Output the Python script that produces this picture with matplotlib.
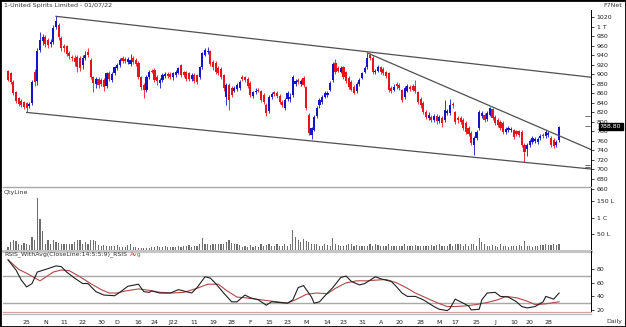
import matplotlib
matplotlib.use('Agg')
import matplotlib.pyplot as plt
from matplotlib.patches import Rectangle
import numpy as np

# daily OHLC (oldest first)
opens = [907, 903, 884, 863, 850, 845, 842, 840, 834, 840, 905, 886, 952, 970, 978, 972, 964, 968, 1000, 1004,
         976, 960, 960, 945, 936, 935, 937, 935, 920, 935, 948, 930, 894, 880, 890, 888, 889, 876, 903, 888,
         902, 914, 920, 935, 932, 926, 922, 934, 930, 924, 894, 878, 867, 894, 908, 909, 895, 882, 888, 896,
         901, 900, 894, 898, 903, 919, 905, 905, 902, 890, 898, 898, 894, 915, 941, 946, 949, 926, 924, 914,
         912, 898, 853, 878, 871, 866, 870, 871, 894, 894, 891, 882, 855, 862, 868, 864, 856, 836, 822, 852,
         862, 860, 854, 842, 830, 848, 848, 857, 880, 888, 880, 893, 874, 815, 772, 783, 812, 835, 842, 853,
         856, 868, 888, 924, 914, 906, 915, 905, 893, 884, 874, 864, 880, 893, 905, 915, 940, 934, 904, 908,
         915, 912, 905, 903, 872, 868, 880, 878, 867, 852, 866, 874, 876, 875, 863, 848, 840, 821, 808, 810,
         804, 812, 803, 808, 804, 818, 819, 838, 821, 808, 808, 804, 798, 788, 777, 752, 766, 787, 812, 815,
         806, 815, 827, 810, 804, 800, 798, 779, 783, 782, 783, 780, 780, 779, 752, 744, 752, 758, 760, 758,
         766, 772, 771, 772, 766, 762, 752, 762]
highs = [910, 906, 888, 866, 853, 848, 845, 842, 842, 888, 912, 955, 990, 985, 982, 976, 974, 1004, 1022, 1008,
         980, 964, 962, 950, 940, 940, 940, 938, 940, 950, 956, 934, 896, 894, 895, 892, 893, 906, 908, 904,
         918, 924, 935, 938, 936, 936, 942, 938, 934, 928, 897, 882, 898, 910, 912, 913, 898, 892, 902, 906,
         905, 904, 906, 910, 916, 922, 908, 908, 906, 902, 902, 900, 918, 948, 956, 958, 952, 930, 928, 918,
         915, 900, 882, 882, 875, 876, 882, 888, 898, 896, 895, 885, 866, 872, 872, 868, 860, 840, 856, 862,
         866, 864, 858, 846, 850, 866, 860, 898, 890, 892, 890, 896, 876, 818, 790, 815, 833, 850, 856, 864,
         866, 886, 926, 932, 918, 918, 918, 908, 896, 888, 878, 884, 892, 906, 918, 945, 944, 938, 912, 920,
         918, 915, 908, 906, 876, 880, 884, 882, 870, 875, 880, 878, 880, 888, 866, 852, 844, 825, 820, 814,
         816, 816, 814, 812, 846, 828, 848, 842, 824, 812, 812, 808, 802, 792, 780, 770, 782, 826, 822, 818,
         822, 832, 830, 814, 808, 804, 802, 790, 792, 790, 786, 784, 784, 782, 755, 756, 764, 770, 769, 768,
         775, 776, 783, 780, 770, 766, 762, 792]
lows = [886, 880, 856, 840, 834, 832, 828, 820, 830, 836, 876, 878, 948, 962, 958, 956, 958, 964, 995, 972,
        950, 948, 938, 932, 928, 918, 905, 908, 912, 930, 936, 890, 863, 872, 872, 875, 866, 872, 885, 884,
        898, 910, 916, 924, 924, 922, 918, 922, 918, 890, 868, 850, 862, 890, 902, 884, 878, 872, 884, 892,
        892, 890, 888, 894, 900, 895, 894, 886, 886, 886, 882, 880, 890, 912, 938, 942, 918, 910, 900, 898,
        890, 866, 836, 825, 852, 862, 866, 868, 886, 884, 872, 852, 850, 858, 862, 842, 838, 812, 818, 848,
        854, 850, 838, 832, 826, 844, 842, 852, 876, 880, 876, 874, 826, 772, 765, 780, 808, 830, 838, 850,
        852, 864, 884, 900, 904, 902, 890, 882, 870, 864, 858, 860, 876, 890, 902, 912, 930, 900, 900, 904,
        900, 898, 892, 862, 860, 864, 870, 868, 842, 848, 862, 866, 864, 860, 838, 830, 817, 806, 804, 800,
        800, 796, 798, 790, 800, 814, 815, 830, 796, 798, 795, 782, 775, 770, 752, 730, 762, 782, 808, 800,
        802, 812, 804, 794, 790, 783, 775, 775, 778, 778, 765, 770, 768, 748, 716, 728, 748, 754, 756, 754,
        762, 766, 767, 768, 748, 746, 748, 758]
closes = [889, 884, 860, 843, 838, 836, 831, 829, 838, 884, 884, 950, 972, 978, 964, 962, 968, 998, 1012, 978,
          956, 955, 942, 938, 934, 925, 915, 914, 935, 941, 940, 895, 882, 890, 878, 880, 874, 903, 890, 900,
          915, 920, 931, 928, 928, 932, 930, 927, 922, 894, 873, 867, 894, 905, 906, 888, 885, 888, 898, 901,
          896, 894, 902, 906, 913, 898, 898, 890, 890, 898, 886, 884, 915, 945, 951, 950, 921, 915, 905, 902,
          894, 871, 878, 846, 857, 872, 878, 884, 890, 888, 876, 856, 862, 866, 866, 846, 842, 819, 853, 858,
          858, 855, 842, 836, 846, 861, 852, 894, 886, 884, 886, 878, 829, 777, 787, 811, 830, 846, 852, 860,
          860, 882, 921, 905, 908, 914, 894, 885, 874, 867, 861, 880, 888, 903, 914, 934, 934, 905, 908, 916,
          904, 902, 897, 867, 866, 874, 875, 872, 846, 871, 876, 870, 868, 864, 842, 835, 821, 810, 815, 804,
          812, 802, 810, 798, 825, 822, 836, 835, 800, 804, 800, 787, 779, 775, 756, 766, 778, 821, 818, 804,
          818, 829, 808, 798, 793, 787, 779, 785, 788, 786, 769, 775, 772, 752, 737, 752, 760, 767, 765, 764,
          771, 770, 779, 776, 752, 750, 758, 788.8]

# quantity in lakhs
volume = [12, 26, 31, 29, 21, 16, 23, 19, 16, 41, 33, 160, 95, 61, 21, 31, 19, 33, 26, 23,
          19, 19, 21, 21, 21, 26, 33, 33, 19, 26, 19, 31, 33, 29, 16, 13, 16, 13, 13, 15,
          13, 16, 12, 12, 10, 16, 19, 12, 10, 7, 7, 7, 7, 7, 12, 10, 15, 12, 12, 13,
          12, 12, 12, 10, 13, 12, 13, 15, 16, 12, 13, 15, 21, 39, 21, 19, 16, 21, 19, 19,
          21, 21, 26, 31, 24, 21, 19, 16, 12, 13, 10, 16, 12, 15, 12, 21, 13, 16, 19, 13,
          15, 19, 15, 15, 19, 15, 19, 63, 41, 33, 26, 36, 29, 26, 21, 21, 19, 13, 13, 19,
          16, 15, 39, 21, 16, 13, 15, 16, 19, 21, 15, 16, 13, 15, 13, 15, 21, 15, 19, 16,
          15, 13, 15, 19, 15, 13, 15, 13, 15, 19, 15, 13, 15, 16, 15, 13, 15, 13, 15, 16,
          15, 17, 21, 15, 15, 15, 19, 15, 19, 21, 19, 15, 19, 15, 19, 21, 15, 39, 25, 19,
          15, 13, 16, 15, 12, 19, 13, 15, 12, 15, 15, 13, 16, 15, 29, 15, 13, 12, 13, 15,
          16, 17, 21, 18, 16, 19, 18, 21]

# RSI and its average, sampled by bar number
rsi_bar = [0, 3, 5, 7, 9, 11, 15, 18, 20, 22, 25, 28, 30, 33, 36, 40, 42, 45, 49, 51, 53, 54, 57, 61, 64,
           67, 69, 71, 74, 76, 78, 81, 84, 86, 89, 91, 94, 97, 99, 102, 105, 107, 109, 111, 114, 115, 117,
           120, 122, 125, 127, 129, 132, 134, 136, 138, 140, 142, 144, 146, 148, 150, 153, 156, 158, 160,
           162, 165, 166, 168, 171, 173, 174, 177, 178, 180, 183, 185, 188, 191, 193, 195, 198, 201, 202,
           205, 207]
rsi_val = [94, 79, 64, 54, 59, 76, 81, 85, 84, 76, 67, 59, 59, 47, 42, 41, 46, 55, 58, 47, 46, 48, 45, 45, 50,
           47, 45, 53, 69, 67, 59, 45, 32, 32, 42, 38, 35, 27, 32, 31, 30, 35, 53, 56, 39, 30, 32,
           45, 53, 68, 70, 62, 57, 59, 64, 69, 66, 64, 62, 54, 45, 40, 40, 35, 30, 25,
           21, 19, 22, 36, 30, 26, 20, 21, 35, 45, 46, 40, 39, 32, 25, 23, 25, 32, 40,
           36, 45]
avg_bar = [0, 4, 8, 12, 17, 20, 23, 27, 31, 35, 38, 41, 44, 49, 53, 57, 62, 66, 71, 75, 79, 82, 86, 89, 93,
           97, 101, 105, 108, 112, 116, 120, 123, 127, 131, 135, 138, 142, 146, 150, 153, 157, 161, 165,
           168, 172, 176, 180, 184, 187, 191, 195, 198, 202, 207]
avg_val = [94, 80, 72, 63, 76, 79, 78, 69, 59, 50, 45, 45, 48, 51, 49, 46, 45, 46, 52, 58, 58, 49, 39, 38, 36,
           34, 32, 30, 35, 43, 45, 44, 52, 60, 63, 63, 64, 65, 60, 52, 45, 38, 31, 25,
           25, 26, 28, 31, 35, 40, 38, 33, 28, 29, 32]

# trendlines: (bar, price) end points
channel_top = ([18, 219], [1022, 894])
channel_bottom = ([7, 219], [820, 701])
falling_line = ([135, 219], [945, 742])
level_marks = [813, 792, 709, 706]

price_ticks = list(range(660, 1021, 20))
price_labels = ['1 T' if p == 1000 else str(p) for p in price_ticks]
vol_ticks = [50, 100, 150]
vol_labels = ['50 L', '1 C', '150 L']
rsi_ticks = [20, 40, 60, 80]
date_bars = [7, 14, 21, 28, 35, 41, 49, 55, 62, 70, 77, 84, 91, 98, 105, 112, 120, 126, 133, 140,
             147, 155, 162, 168, 176, 183, 190, 196, 203]
date_labels = ['25', 'N', '11', '22', '30', 'D', '16', '24', 'J22', '11', '19', '28', 'F', '15', '23',
               'M', '14', '23', '31', 'A', '20', '28', 'M', '17', '25', 'J', '10', '20', '28']

BLUE = '#1414c8'
RED = '#e8141c'
GREY = '#a8a8a8'
FS = 4.5

W, H = 626.0, 327.0


def box(x0, y0, x1, y1):
    # pixel box (top-left origin) -> figure fraction rect
    return [x0 / W, 1 - y1 / H, (x1 - x0) / W, (y1 - y0) / H]


def ftext(x, y, s, **kw):
    return fig.text(x / W, 1 - y / H, s, fontsize=FS, va='center', **kw)


fig = plt.figure(figsize=(6.26, 3.27), dpi=100)
fig.patch.set_facecolor('white')

ax_p = fig.add_axes(box(3, 10, 591, 189))
ax_v = fig.add_axes(box(3, 187, 591, 250.7))
ax_r = fig.add_axes(box(3, 250.7, 591, 311.7))

o = np.array(opens, float)
h = np.array(highs, float)
l = np.array(lows, float)
c = np.array(closes, float)
bars = np.arange(len(c))
cols = np.where(c >= o, BLUE, RED)

for ax in (ax_p, ax_v, ax_r):
    ax.set_facecolor('none')
    ax.set_xlim(-1.9, 219.0)
    for s in ('left', 'top', 'bottom'):
        ax.spines[s].set_visible(False)
    ax.spines['right'].set_linewidth(0.7)
    ax.yaxis.tick_right()
    ax.tick_params(axis='y', labelsize=FS, length=2.5, width=0.6, pad=1.5, colors='#222222')
    ax.tick_params(axis='x', bottom=False, labelbottom=False)

# price panel
ax_p.vlines(bars, l, h, colors=cols, lw=0.6)
ax_p.bar(bars, np.maximum(np.abs(c - o), 1.5), bottom=np.minimum(o, c), width=0.8, color=cols, lw=0)
for line in (channel_top, channel_bottom, falling_line):
    ax_p.plot(line[0], line[1], color='#505050', lw=0.9)
ax_p.hlines(level_marks, 216.8, 218.6, color='#505050', lw=0.6)
ax_p.set_ylim(659.0, 1035.3)
ax_p.set_yticks(price_ticks)
ax_p.set_yticklabels(price_labels)

# volume panel
ax_v.bar(bars, volume, width=0.45, color='#6e6e6e', lw=0)
ax_v.set_ylim(0, 193)
ax_v.set_yticks(vol_ticks)
ax_v.set_yticklabels(vol_labels)
ax_v.spines['top'].set_visible(True)
ax_v.spines['top'].set_color(GREY)
ax_v.spines['top'].set_linewidth(1.0)
ax_v.spines['bottom'].set_visible(True)
ax_v.spines['bottom'].set_color('#c4c4c4')
ax_v.spines['bottom'].set_linewidth(2.2)

# RSI panel
ax_r.axhline(70, color=GREY, lw=1.0)
ax_r.axhline(30, color=GREY, lw=1.0)
ax_r.plot(avg_bar, avg_val, color='#b04848', lw=0.8)
ax_r.plot(rsi_bar, rsi_val, color='#202020', lw=0.8)
ax_r.set_ylim(17.4, 107.5)
ax_r.set_yticks(rsi_ticks)
ax_r.spines['bottom'].set_visible(True)
ax_r.spines['bottom'].set_color('#d8a0a0')
ax_r.spines['bottom'].set_linewidth(0.9)
ax_r.axhline(14.0, color='#b8b8b8', lw=0.9, clip_on=False)
ax_r.set_xticks(date_bars)
ax_r.set_xticklabels(date_labels)
ax_r.tick_params(axis='x', bottom=True, labelbottom=True, labelsize=FS, length=0,
                 pad=6, labelcolor='#222222')

# texts
ftext(4, 5.5, '1-United Spirits Limited - 01/07/22', color='#333333')
ftext(622, 5.5, 'F7Net', ha='right', color='#333333')
ftext(4, 192.5, 'QtyLine', color='#333333')
t = ftext(4, 254.5, 'RSIS_WithAvg(CloseLine:14:5:5:9)_RSIS', color='#333333')
ftext(622, 322, 'Daily', ha='right', color='#333333')
ftext(610.5, 126.3, '%.2f' % closes[-1], ha='center', color='white',
      bbox=dict(boxstyle='square,pad=0.2', fc='black', ec='black'))

fig.canvas.draw()
bb = t.get_window_extent()
fig.text(bb.x1 / W + 3 / W, 1 - 254.5 / H, 'Avg', fontsize=FS, va='center', color='#e03c3c')

fig.add_artist(Rectangle((0, 0), 1, 1, transform=fig.transFigure, fill=False, ec='black', lw=2))

fig.savefig('out.png', dpi=100)
